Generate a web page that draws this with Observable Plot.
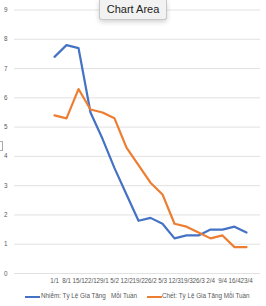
<!DOCTYPE html>
<html><head><meta charset="utf-8">
<script src="https://cdn.jsdelivr.net/npm/d3@7"></script>
<script src="https://cdn.jsdelivr.net/npm/@observablehq/plot@0.6"></script>
<style>
html,body{margin:0;padding:0;background:#fff;width:266px;height:306px;overflow:hidden;font-family:"Liberation Sans",Arial,sans-serif;}
#wrap{position:relative;width:266px;height:306px;}
#chart{position:absolute;left:0;top:0;}
#legend{position:absolute;left:0;top:289px;width:266px;height:14px;font-size:6.3px;color:#595959;}
.li{position:absolute;top:3px;white-space:pre;}
.sw{position:absolute;top:7px;height:2px;width:15px;}
#tip{position:absolute;left:99px;top:0px;width:66px;height:19px;background:#f2f2f2;border:1px solid #c8c8c8;border-top:none;border-radius:0 0 3px 3px;box-shadow:0 2px 5px rgba(0,0,0,0.18);font-size:11px;color:#222;text-align:center;line-height:19px;font-family:"Liberation Sans",Arial,sans-serif;}
#h1{position:absolute;left:0;top:141px;width:2px;height:8px;border:1px solid #aaa;border-left:none;}
</style></head>
<body><div id="wrap"><div id="chart"></div>
<div id="legend">
<div class="sw" style="left:25px;background:#4472C4"></div><div class="li" style="left:41px">Nhiễm: Tỷ Lệ Gia Tăng   Mỗi Tuần</div>
<div class="sw" style="left:147px;background:#ED7D31"></div><div class="li" style="left:162px">Chết: Tỷ Lệ Gia Tăng Mỗi Tuần</div>
</div>
<div id="tip">Chart Area</div><div id="h1"></div>
</div>
<script>
const dates = ["1/1","8/1","15/1","22/1","29/1","5/2","12/2","19/2","26/2","5/3","12/3","19/3","26/3","2/4","9/4","16/4","23/4"];
const infected = [7.4,7.8,7.7,5.5,4.6,3.6,2.7,1.8,1.9,1.7,1.2,1.3,1.3,1.5,1.5,1.6,1.4];
const deaths = [5.4,5.3,6.3,5.6,5.5,5.3,4.3,3.7,3.1,2.7,1.7,1.6,1.4,1.2,1.3,0.9,0.9];
const yTicks = [0,1,2,3,4,5,6,7,8,9];

const infData = dates.map((d,i)=>({d, v: infected[i]}));
const dthData = dates.map((d,i)=>({d, v: deaths[i]}));

const chart = Plot.plot({
  width: 266, height: 289,
  marginLeft: 14, marginRight: 6, marginTop: 9.5, marginBottom: 16,
  style: {fontFamily: '"Liberation Sans", Arial, sans-serif', color: "#595959", background: "transparent"},
  x: {type: "point", domain: dates, range: [45.7, 255]},
  y: {domain: [0, 9], ticks: yTicks},
  marks: [
    Plot.ruleY(yTicks, {stroke: "#d9d9d9", strokeWidth: 0.8}),
    Plot.axisY(yTicks, {tickSize: 0, tickPadding: 7, fontSize: 6.3, fill: "#595959"}),
    Plot.axisX({tickSize: 0, tickPadding: 5, fontSize: 6.3, fill: "#595959", label: null}),
    Plot.lineY(infData, {x: "d", y: "v", stroke: "#4472C4", strokeWidth: 2.2, strokeLinejoin: "round", strokeLinecap: "round"}),
    Plot.lineY(dthData, {x: "d", y: "v", stroke: "#ED7D31", strokeWidth: 2.2, strokeLinejoin: "round", strokeLinecap: "round"})
  ]
});
chart.querySelectorAll("[aria-label='y-axis label'], [aria-label='x-axis label']").forEach(e=>e.remove());
document.getElementById("chart").appendChild(chart);
</script>
</body></html>
